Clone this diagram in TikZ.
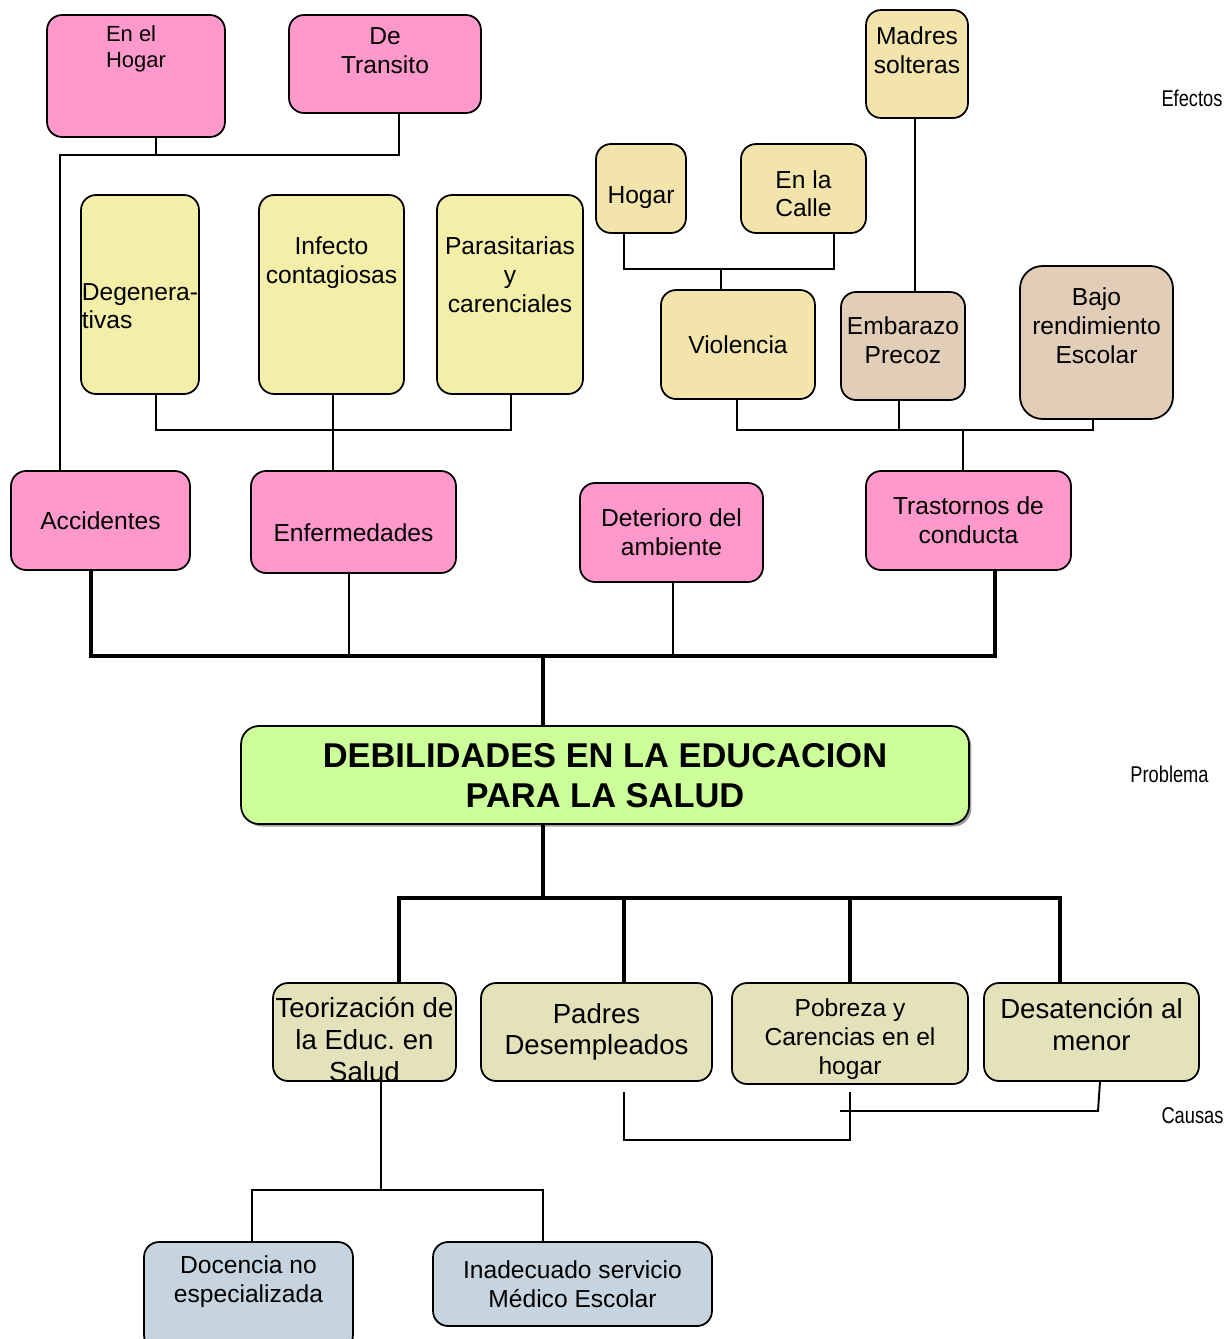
\documentclass[tikz,border=0pt]{standalone}
\usepackage{fontspec}
\setmainfont{Liberation Sans}
\newfontfamily\narrowfont[FakeStretch=0.8]{Liberation Sans}
\usetikzlibrary{shadows}

\definecolor{pinkf}{HTML}{FF99CC}
\definecolor{wheatf}{HTML}{F2E4AA}
\definecolor{yellowf}{HTML}{F3EFA8}
\definecolor{tanf}{HTML}{E2CEB8}
\definecolor{greenf}{HTML}{CCFF99}
\definecolor{beigef}{HTML}{E4E2BB}
\definecolor{bluef}{HTML}{C5D4DF}

\begin{document}
\begin{tikzpicture}
      [%%%%%%%%%%%%%%%%%%%%%%%%%%%%%%
      x=0.02cm, y=-0.02cm,
      box/.style={rectangle, rounded corners=0.3cm, draw=black, line width=1pt,
        align=center, inner sep=0pt, font=\fontsize{14}{16.5}\selectfont},
      pinkbox/.style={box, fill=pinkf},
      wheatbox/.style={box, fill=wheatf},
      yellowbox/.style={box, fill=yellowf},
      tanbox/.style={box, fill=tanf},
      beigebox/.style={box, fill=beigef},
      bluebox/.style={box, fill=bluef},
      mainbox/.style={box, fill=greenf, rounded corners=0.36cm,
        drop shadow={shadow xshift=0.05cm, shadow yshift=-0.05cm, fill=black!75},
        font=\bfseries\fontsize{19.6}{22.7}\selectfont},
      sz/.style 2 args={minimum width=#1, minimum height=#2},
      txtpos/.style 2 args={text height=#1, text depth=#2},
      big/.style={font=\fontsize{15.7}{18}\selectfont},
      conn/.style={draw=black, line width=1.1pt},
      heavy/.style={draw=black, line width=2.8pt},
      side/.style={font=\narrowfont\fontsize{13}{15}\selectfont},
      ]%%%%%%%%%%%%%%%%%%%%%%%%%%%%%%

      \useasboundingbox (0,0) rectangle (1228,1339);

      % efectos
      \node[pinkbox, sz={3.56cm}{2.44cm}, txtpos={1.04cm}{1.40cm}, align=left,
        font=\fontsize{12.5}{14.7}\selectfont] (enhogar) at (136,76) {En el\\Hogar};
      \node[pinkbox, sz={3.84cm}{1.96cm}, txtpos={1.16cm}{0.80cm}] (detransito) at (385,64) {De\\Transito};
      \node[wheatbox, sz={2.04cm}{2.16cm}, txtpos={1.26cm}{0.90cm}] (madres) at (917,64) {Madres\\solteras};
      \node[wheatbox, sz={1.8cm}{1.78cm}, txtpos={1.18cm}{0.6cm}] (hogar) at (641,188.5) {Hogar};
      \node[wheatbox, sz={2.5cm}{1.78cm}, txtpos={1.46cm}{0.32cm}] (calle) at (803.5,188.5) {En la\\Calle};

      \node[yellowbox, sz={2.36cm}{3.98cm}, txtpos={2.68cm}{1.30cm}, align=left] (degen) at (140,294.5) {Degenera-\\tivas};
      \node[yellowbox, sz={2.9cm}{3.98cm}, txtpos={1.76cm}{2.22cm}] (infecto) at (331.5,294.5) {Infecto\\contagiosas};
      \node[yellowbox, sz={2.92cm}{3.98cm}, txtpos={2.34cm}{1.64cm}] (parasit) at (510,294.5) {Parasitarias\\y\\carenciales};

      \node[wheatbox, sz={3.08cm}{2.18cm}] (violencia) at (738,344.5) {Violencia};
      \node[tanbox, sz={2.48cm}{2.16cm}, txtpos={1.42cm}{0.74cm}] (embarazo) at (903,346) {Embarazo\\Precoz};
      \node[tanbox, sz={3.06cm}{3.06cm}, txtpos={1.94cm}{1.12cm}, rounded corners=0.45cm] (bajo) at (1096.5,342.5) {Bajo\\rendimiento\\Escolar};

      \node[pinkbox, sz={3.58cm}{1.98cm}] (accidentes) at (100.5,520.5) {Accidentes};
      \node[pinkbox, sz={4.1cm}{2.04cm}, txtpos={1.4cm}{0.64cm}] (enfermedades) at (353.5,522) {Enfermedades};
      \node[pinkbox, sz={3.66cm}{1.98cm}] (deterioro) at (671.5,532.5) {Deterioro del\\ambiente};
      \node[pinkbox, sz={4.1cm}{1.98cm}] (trastornos) at (968.5,520.5) {Trastornos de\\conducta};

      % problema
      \node[mainbox, sz={14.56cm}{1.96cm}, txtpos={1.62cm}{0.34cm}] (main) at (605,775) {DEBILIDADES EN LA EDUCACION\\PARA LA SALUD};

      % causas
      \node[beigebox, big, sz={3.66cm}{1.96cm}, txtpos={1.96cm}{0pt}] (teoriz) at (364.5,1032) {Teorización de\\la Educ.\ en\\Salud};
      \node[beigebox, big, sz={4.62cm}{1.96cm}] (padres) at (596.5,1032) {Padres\\Desempleados};
      \node[beigebox, sz={4.72cm}{2.02cm}, txtpos={1.82cm}{0.2cm}] (pobreza) at (850,1033.5) {Pobreza y\\Carencias en el\\hogar};
      \node[beigebox, big, sz={4.3cm}{1.96cm}, txtpos={1.34cm}{0.62cm}] (desat) at (1091.5,1032) {Desatención al\\menor};
      \node[bluebox, sz={4.18cm}{2.16cm}, txtpos={1.20cm}{0.96cm}] (docencia) at (248.5,1296) {Docencia no\\especializada};
      \node[bluebox, sz={5.58cm}{1.68cm}] (inadecuado) at (572.5,1284) {Inadecuado servicio\\Médico Escolar};

      \node[side] (efectos) at (1192,98) {Efectos};
      \node[side] (problema) at (1169.5,774) {Problema};
      \node[side] (causas) at (1192.5,1116) {Causas};

      % junctions
      \coordinate (acc-j) at (60,155);
      \coordinate (dis-j) at (333,430);
      \coordinate (vio-j) at (721,269);
      \coordinate (con-j) at (963,430);
      \coordinate (eff-j) at (543,656);
      \coordinate (cau-j) at (543,898);
      \coordinate (teo-j) at (381,1190);
      \coordinate (pad-a) at (624,1092);
      \coordinate (pad-b) at (850,1092);
      \coordinate (pad-j) at (737,1140);
      \coordinate (des-j) at (1098,1111);
      \coordinate (des-e) at (840,1111);

      \draw[conn] (enhogar.south -| 156,0) |- (acc-j) -- (accidentes.north -| acc-j);
      \draw[conn] (detransito.south -| 399,0) |- (acc-j);

      \draw[conn] (degen.south -| 156,0) |- (dis-j) -| (parasit.south -| 511,0);
      \draw[conn] (infecto.south -| dis-j) -- (enfermedades.north -| dis-j);

      \draw[conn] (hogar.south -| 624,0) |- (vio-j) -| (calle.south -| 834,0);
      \draw[conn] (vio-j) -- (violencia.north -| vio-j);
      \draw[conn] (madres.south -| 915,0) -- (embarazo.north -| 915,0);

      \draw[conn] (violencia.south -| 737,0) |- (con-j) -| (bajo.south -| 1093,0);
      \draw[conn] (embarazo.south -| 899,0) |- (con-j);
      \draw[conn] (con-j) -- (trastornos.north -| con-j);

      \draw[heavy] (accidentes.south -| 91,0) |- (eff-j) -| (trastornos.south -| 995,0);
      \draw[conn] (enfermedades.south -| 349,0) |- (eff-j);
      \draw[conn] (deterioro.south -| 673,0) |- (eff-j);
      \draw[heavy] (eff-j) -- (main.north -| eff-j);

      \draw[heavy] (main.south -| cau-j) -- (cau-j);
      \draw[heavy] (teoriz.north -| 399,0) |- (cau-j) -| (desat.north -| 1060,0);
      \draw[heavy] (padres.north -| 624,0) |- (cau-j);
      \draw[heavy] (pobreza.north -| 850,0) |- (cau-j);

      \draw[conn] (teoriz.south -| teo-j) -- (teo-j);
      \draw[conn] (docencia.north -| 252,0) |- (teo-j) -| (inadecuado.north -| 543,0);

      \draw[conn] (pad-a) |- (pad-j) -| (pad-b);
      \draw[conn] (desat.south -| 1100,0) -- (des-j) -- (des-e);
\end{tikzpicture}
\end{document}
